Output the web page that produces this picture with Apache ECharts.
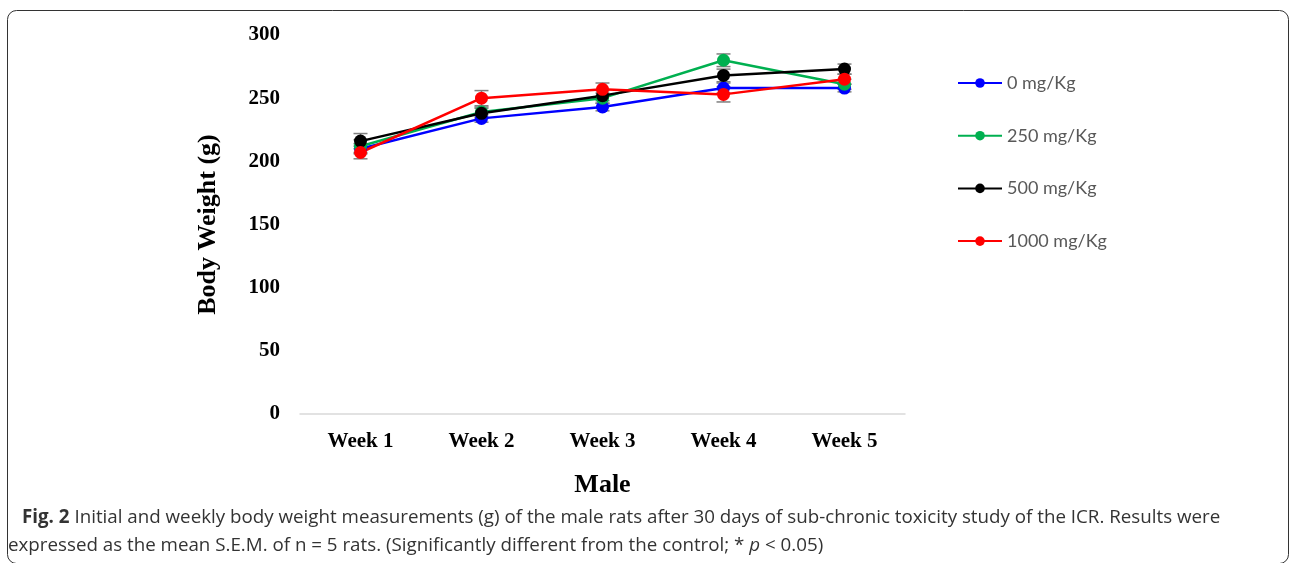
<!DOCTYPE html>
<html>
<head>
<meta charset="utf-8">
<script src="https://cdn.jsdelivr.net/npm/echarts@6/dist/echarts.min.js"></script>
<style>
  html, body { margin: 0; padding: 0; background: #fff; }
  #chart { width: 1292px; height: 563px; }
</style>
</head>
<body>
<div id="chart"></div>
<script>
// ---- data ----
const weeks = ['Week 1', 'Week 2', 'Week 3', 'Week 4', 'Week 5'];
const seriesNames = ['0 mg/Kg', '250 mg/Kg', '500 mg/Kg', '1000 mg/Kg'];
const dose0    = [210, 234, 243, 258, 258];
const dose250  = [212, 239, 250, 280, 261];
const dose500  = [216, 238, 252, 268, 273];
const dose1000 = [207, 250, 257, 253, 265];
const sem0    = [4, 3, 3, 4, 3];
const sem250  = [5, 4, 4, 5, 4];
const sem500  = [6, 4, 4, 5, 4];
const sem1000 = [5, 6, 5, 6, 4];
const yTicks = [0, 50, 100, 150, 200, 250, 300];

const values = [dose0, dose250, dose500, dose1000];
const sems = [sem0, sem250, sem500, sem1000];
const colors = ['#0000ff', '#00b050', '#000000', '#ff0000'];

const chart = echarts.init(document.getElementById('chart'), null, { renderer: 'canvas' });

const series = [];
values.forEach((vals, i) => {
  series.push({
    name: seriesNames[i] + ' err',
    type: 'custom',
    z: 1,
    silent: true,
    data: vals.map((v, k) => [k, v - sems[i][k], v + sems[i][k]]),
    renderItem: function (params, api) {
      const x = api.value(0);
      const lo = api.coord([x, api.value(1)]);
      const hi = api.coord([x, api.value(2)]);
      const hw = 7;
      const st = { stroke: '#7f7f7f', lineWidth: 1.5 };
      return {
        type: 'group',
        children: [
          { type: 'line', shape: { x1: hi[0], y1: hi[1], x2: lo[0], y2: lo[1] }, style: st },
          { type: 'line', shape: { x1: hi[0] - hw, y1: hi[1], x2: hi[0] + hw, y2: hi[1] }, style: st },
          { type: 'line', shape: { x1: lo[0] - hw, y1: lo[1], x2: lo[0] + hw, y2: lo[1] }, style: st }
        ]
      };
    }
  });
});
values.forEach((vals, i) => {
  series.push({
    name: seriesNames[i],
    type: 'line',
    z: 2,
    data: vals,
    symbol: 'circle',
    symbolSize: 13,
    lineStyle: { color: colors[i], width: 2.5 },
    itemStyle: { color: colors[i] }
  });
});

const option = {
  animation: false,
  backgroundColor: '#ffffff',
  grid: { left: 300, right: 387, top: 35, bottom: 149, containLabel: false },
  legend: {
    data: seriesNames,
    orient: 'vertical',
    left: 952,
    top: 69,
    itemWidth: 44,
    itemHeight: 12,
    itemGap: 34.7,
    textStyle: { fontFamily: 'Lato', fontSize: 18, color: '#595959' }
  },
  xAxis: {
    type: 'category',
    data: weeks,
    name: 'Male',
    nameLocation: 'middle',
    nameGap: 58,
    nameTextStyle: { fontFamily: 'Liberation Serif', fontWeight: 'bold', fontSize: 26, color: '#000' },
    axisLine: { lineStyle: { color: '#d9d9d9', width: 1.5 } },
    axisTick: { show: false },
    axisLabel: { fontFamily: 'Liberation Serif', fontWeight: 'bold', fontSize: 21, color: '#000', margin: 17 }
  },
  yAxis: {
    type: 'value',
    min: yTicks[0],
    max: yTicks[yTicks.length - 1],
    interval: 50,
    name: 'Body Weight (g)',
    nameLocation: 'middle',
    nameGap: 79,
    nameTextStyle: { fontFamily: 'Liberation Serif', fontWeight: 'bold', fontSize: 26, color: '#000' },
    axisLine: { show: false },
    axisTick: { show: false },
    splitLine: { show: false },
    axisLabel: { fontFamily: 'Liberation Serif', fontWeight: 'bold', fontSize: 21, color: '#000', margin: 20 }
  },
  graphic: [
    {
      type: 'rect',
      left: 5, top: 8,
      shape: { width: 1281, height: 553, r: 9 },
      style: { fill: 'none', stroke: '#333', lineWidth: 1 },
      silent: true
    },
    {
      type: 'text',
      left: 22, top: 508,
      style: {
        text: '{b|Fig. 2} Initial and weekly body weight measurements (g) of the male rats after 30 days of sub-chronic toxicity study of the ICR. Results were',
        fontFamily: 'Open Sans', fontSize: 18.75, fill: '#333333',
        rich: { b: { fontFamily: 'Open Sans', fontWeight: 'bold', fontSize: 18.75, fill: '#333333' } }
      }
    },
    {
      type: 'text',
      left: 8, top: 536,
      style: {
        text: 'expressed as the mean S.E.M. of n = 5 rats. (Significantly different from the control; * {i|p} < 0.05)',
        fontFamily: 'Open Sans', fontSize: 18.75, fill: '#333333',
        rich: { i: { fontFamily: 'Open Sans', fontStyle: 'italic', fontSize: 18.75, fill: '#333333' } }
      }
    }
  ],
  series: series
};
chart.setOption(option);
</script>
</body>
</html>
